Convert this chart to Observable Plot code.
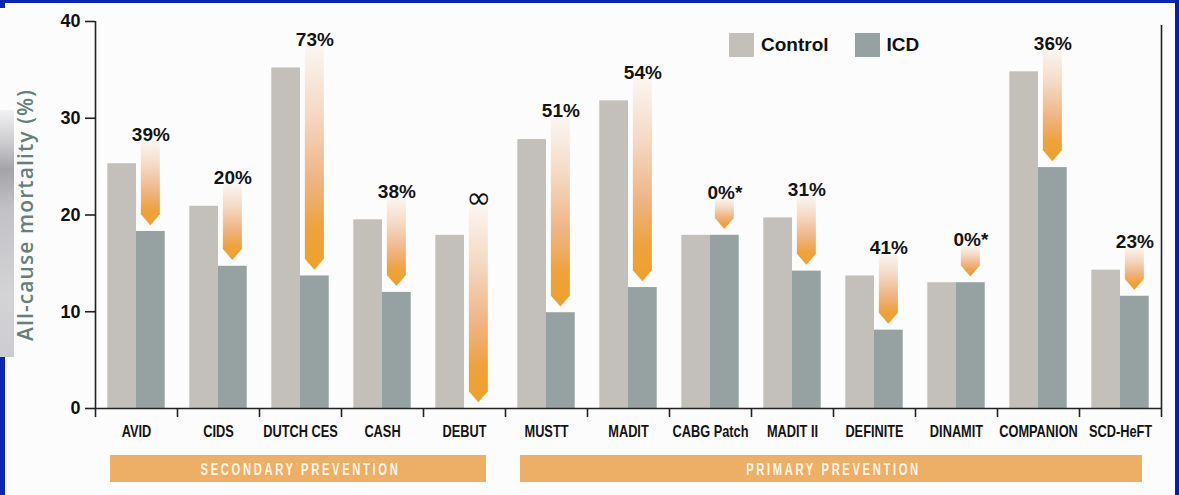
<!DOCTYPE html>
<html>
<head>
<meta charset="utf-8">
<script src="https://cdn.jsdelivr.net/npm/d3@7"></script>
<script src="https://cdn.jsdelivr.net/npm/@observablehq/plot@0.6"></script>
<style>
  html, body { margin: 0; padding: 0; }
  body {
    width: 1179px; height: 495px; position: relative; overflow: hidden;
    background: #fcfcfc;
    font-family: "Liberation Sans", Arial, sans-serif;
  }
  .edge { position: absolute; background: #0b26b3; }
  .photo {
    position: absolute; left: 0; top: 110px; width: 14px; height: 247px;
    background: linear-gradient(180deg, #f2f2f3 0%, #c9c9cc 14%, #a3a3a8 24%, #c2c2c6 40%, #d3d3d6 75%, #cdcdd1 100%);
  }
  #chart { position: absolute; left: 0; top: 0; }
  #chart svg [aria-label="y-axis tick label"] text,
  #chart svg [aria-label="y-axis tick label"] {
    font-family: "Liberation Sans", Arial, sans-serif; font-weight: bold; font-size: 18px; fill: #111;
  }
  .legend { position: absolute; top: 33px; left: 729px; display: flex; align-items: center;
            font: bold 19px "Liberation Sans", Arial, sans-serif; color: #111; }
  .legend .item { display: flex; align-items: center; margin-right: 26px; }
  .legend .sw { width: 25px; height: 24px; margin-right: 7px; }
</style>
</head>
<body>
<div class="edge" style="left:0;top:0;width:1179px;height:3px"></div>
<div class="edge" style="left:0;top:0;width:5px;height:8px"></div>
<div class="photo"></div>
<div class="edge" style="left:0;top:357px;width:5px;height:138px"></div>
<div class="edge" style="left:1175px;top:0;width:4px;height:495px;background:#0a1f9c"></div>
<div id="chart"></div>
<div class="legend" id="legend"></div>
<script>
// All-cause mortality (%) in the control and ICD arms of the major ICD trials
const trials = ["AVID", "CIDS", "DUTCH CES", "CASH", "DEBUT", "MUSTT", "MADIT",
                "CABG Patch", "MADIT II", "DEFINITE", "DINAMIT", "COMPANION", "SCD-HeFT"];
const controlMortality = [25.3, 20.9, 35.2, 19.5, 17.9, 27.8, 31.8, 17.9, 19.7, 13.7, 13.0, 34.8, 14.3];
const icdMortality     = [18.3, 14.7, 13.7, 12.0, 0,    9.9,  12.5, 17.9, 14.2, 8.1,  13.0, 24.9, 11.6];
const reductionLabels  = ["39%", "20%", "73%", "38%", "∞", "51%", "54%", "0%*", "31%", "41%", "0%*", "36%", "23%"];
const seriesNames = ["Control", "ICD"];
const groupNames = ["SECONDARY PREVENTION", "PRIMARY PREVENTION"];
const groupFirstTrial = ["AVID", "MUSTT"];
const groupLastTrial = ["DEBUT", "SCD-HeFT"];
const yTicks = [0, 10, 20, 30, 40];
const yTitle = "All-cause mortality (%)";

const colors = {control: "#c3c0bb", icd: "#95a2a1", band: "#edae66", ink: "#141414"};
const sans = "'Liberation Sans', Arial, sans-serif";

const rows = trials.map((trial, i) => ({
  i, trial,
  control: controlMortality[i],
  icd: icdMortality[i],
  label: reductionLabels[i]
}));

// Arrow starts a little above the control bar and points to the top of the ICD bar
const isInfinite = d => d.label === "∞";
const arrowTop = d => Math.max(d.control + (isInfinite(d) ? 3.3 : 2.3), d.icd + 3.8);
const arrowTip = d => d.icd + 0.6;
const half = 0.35; // bar width in category units

const groups = groupNames.map((name, k) => ({
  name,
  first: trials.indexOf(groupFirstTrial[k]),
  last: trials.indexOf(groupLastTrial[k])
}));

const boundaries = d3.range(trials.length + 1).map(k => k - 0.5);

// Gradient-filled arrows drawn through the plot's scales
function arrows(index, scales) {
  const ns = "http://www.w3.org/2000/svg";
  const g = document.createElementNS(ns, "g");
  const defs = document.createElementNS(ns, "defs");
  const grad = document.createElementNS(ns, "linearGradient");
  grad.setAttribute("id", "arrow-fade");
  grad.setAttribute("x1", 0); grad.setAttribute("y1", 0);
  grad.setAttribute("x2", 0); grad.setAttribute("y2", 1);
  [[0, "#fbf6f2"], [0.3, "#f5d9c4"], [0.6, "#efb484"], [0.82, "#eea23c"], [1, "#efa02a"]].forEach(([o, c]) => {
    const s = document.createElementNS(ns, "stop");
    s.setAttribute("offset", o); s.setAttribute("stop-color", c);
    grad.appendChild(s);
  });
  defs.appendChild(grad);
  g.appendChild(defs);
  const hw = 9.5, head = 11;
  for (const d of rows) {
    const cx = scales.x(d.i + half / 2);
    const top = scales.y(arrowTop(d));
    const tip = scales.y(arrowTip(d));
    const p = document.createElementNS(ns, "path");
    p.setAttribute("d", `M${cx - hw},${top}H${cx + hw}V${tip - head}L${cx},${tip}L${cx - hw},${tip - head}Z`);
    p.setAttribute("fill", "url(#arrow-fade)");
    g.appendChild(p);
  }
  return g;
}

const chart = Plot.plot({
  width: 1179,
  height: 495,
  marginLeft: 95,
  marginRight: 18,
  marginTop: 21,
  marginBottom: 87,
  style: {background: "transparent", overflow: "visible"},
  x: {domain: [-0.5, trials.length - 0.5], axis: null},
  y: {domain: [0, 40], axis: null},
  marks: [
    Plot.rectY(rows, {x1: d => d.i - half, x2: d => d.i, y: "control", fill: colors.control}),
    Plot.rectY(rows.filter(d => d.icd > 0), {x1: d => d.i, x2: d => d.i + half, y: "icd", fill: colors.icd}),
    arrows,
    Plot.text(rows.filter(d => !isInfinite(d)), {
      x: d => d.i + half / 2, y: arrowTop, text: "label", lineAnchor: "bottom", dy: 0,
      fontSize: 19, fontWeight: "bold", fill: colors.ink, fontFamily: sans
    }),
    Plot.text(rows.filter(isInfinite), {
      x: d => d.i + half / 2, y: arrowTop, text: "label", lineAnchor: "bottom", dy: 5,
      fontSize: 30, fill: colors.ink, fontFamily: "'DejaVu Sans', sans-serif"
    }),
    // axis frame
    Plot.ruleX([-0.5], {y1: 0, y2: 40, stroke: "#222", strokeWidth: 1.6}),
    Plot.ruleX([trials.length - 0.5], {y1: 0, y2: 40, stroke: "#222", strokeWidth: 1.6, insetBottom: -4}),
    Plot.ruleY([0], {x1: -0.5, x2: trials.length - 0.5, stroke: "#222", strokeWidth: 1.6}),
    Plot.axisY({ticks: yTicks, tickSize: 10, tickPadding: 5, label: null, stroke: "#222", strokeWidth: 1.6,
                fontSize: 18, fontWeight: "bold"}),
    Plot.axisX({ticks: boundaries, tickSize: 9, tickFormat: () => "", label: null, stroke: "#222", strokeWidth: 1.6}),
    // trial names
    Plot.text(rows, {x: "i", y: 0, text: "trial", dy: 23, fontSize: 16, fontWeight: "bold",
                     fontFamily: sans, fill: colors.ink}),
    // y axis title
    Plot.text([yTitle], {frameAnchor: "left", textAnchor: "middle", rotate: -90, dx: -69,
                     fontSize: 21, fontWeight: 600, fill: "#668079", fontFamily: "'Open Sans', 'Liberation Sans', sans-serif"}),
    // prevention group rows under the trial names
    Plot.rect(groups, {x1: d => d.first - 0.5, x2: d => d.last + 0.5, y1: 0, y2: 0,
                       insetLeft: 15, insetRight: 19, insetBottom: -27, dy: 47, fill: colors.band}),
    Plot.text(groups, {x: d => (d.first + d.last) / 2, y: 0, text: "name", dy: 61,
                       fontSize: 17, fontWeight: "bold", fontFamily: sans, fill: "#fff6ea"})
  ]
});
document.getElementById("chart").appendChild(chart);

// narrow the label type to a condensed look
const allTexts = Array.from(chart.querySelectorAll("text"));
function condense(names, sx, spacing) {
  allTexts.filter(t => names.includes(t.textContent)).forEach(t => {
    if (spacing) t.setAttribute("letter-spacing", spacing);
    const tr = t.getAttribute("transform");
    if (tr) {
      t.setAttribute("transform", `${tr} scale(${sx},1)`);
    } else {
      const x = +t.getAttribute("x") || 0;
      t.setAttribute("transform", `translate(${x},0) scale(${sx},1) translate(${-x},0)`);
    }
  });
}
condense(trials, 0.8);
condense(groupNames, 0.66, "4");
allTexts.filter(t => t.textContent === yTitle).forEach(t => t.setAttribute("letter-spacing", "1.1"));

// legend
const legend = document.getElementById("legend");
[colors.control, colors.icd].forEach((c, k) => {
  const item = document.createElement("div");
  item.className = "item";
  item.innerHTML = `<span class="sw" style="background:${c}"></span><span>${seriesNames[k]}</span>`;
  legend.appendChild(item);
});
</script>
</body>
</html>
